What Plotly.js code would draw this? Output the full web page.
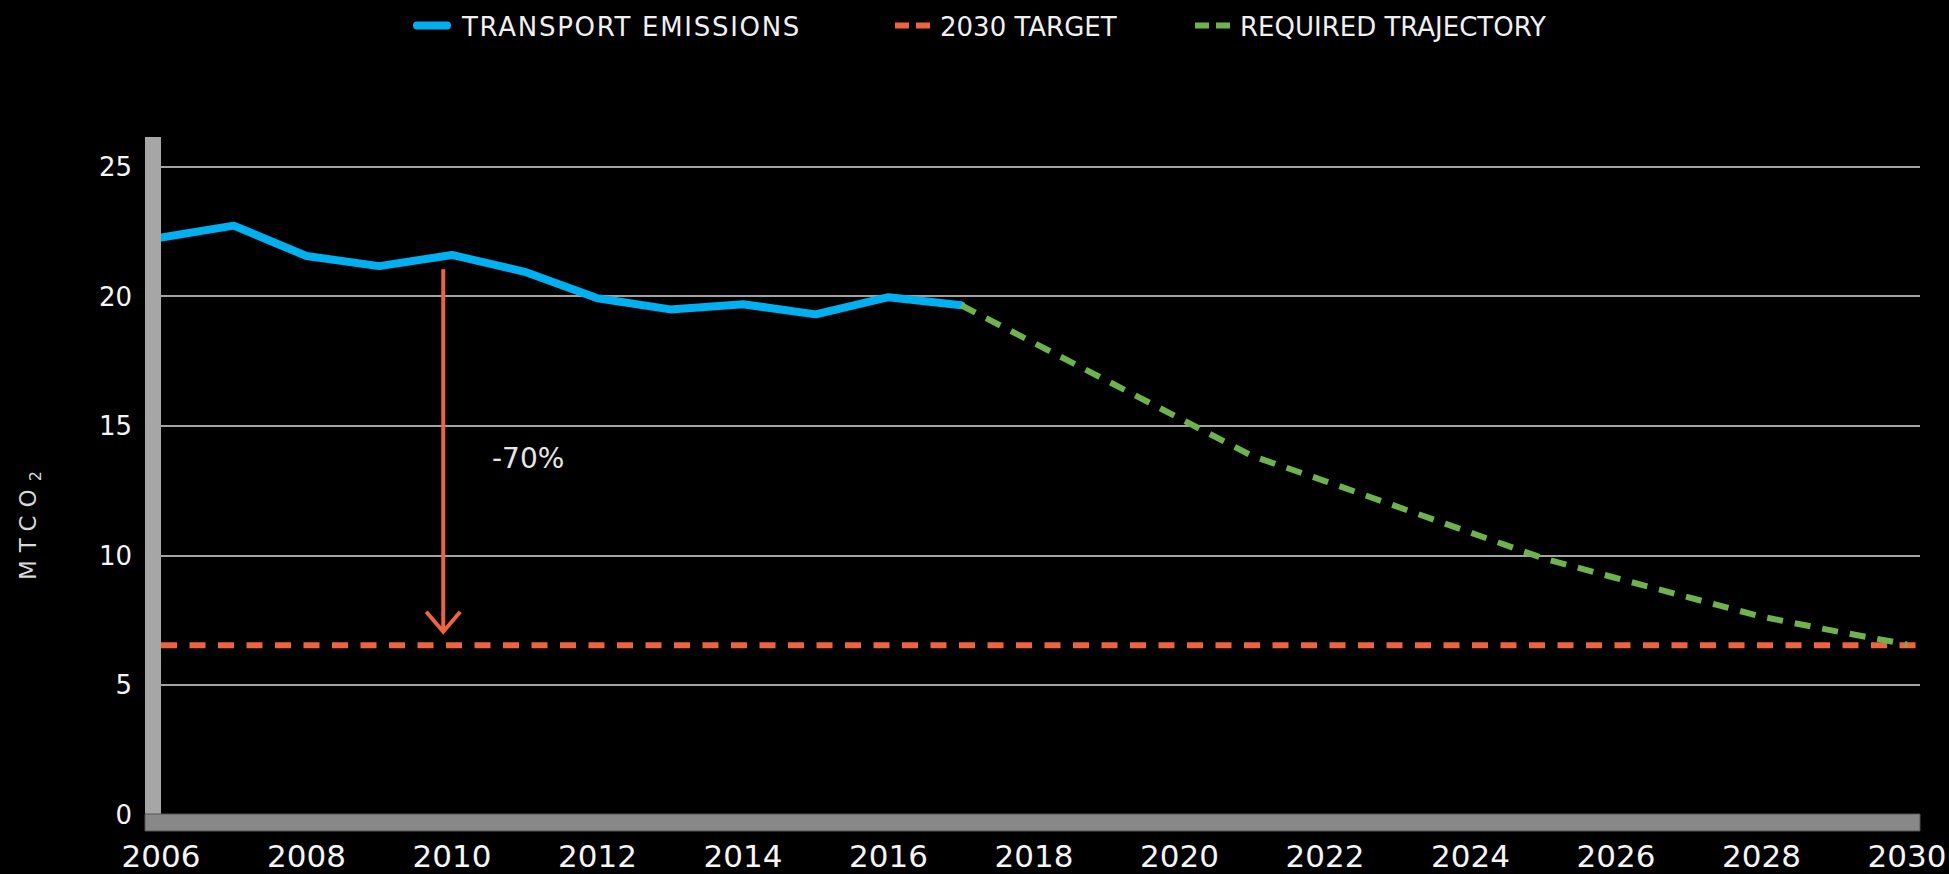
<!DOCTYPE html>
<html>
<head>
<meta charset="utf-8">
<script src="https://cdn.plot.ly/plotly-3.0.1.min.js"></script>
<style>
html,body{margin:0;padding:0;background:#000;}
#chart{width:1949px;height:874px;}
.legendtext{letter-spacing:1.7px;}
.annotation[data-index="0"] .annotation-text{letter-spacing:8px;}
.scatterlayer .trace:nth-child(1) .js-line{stroke-linecap:round;stroke-linejoin:round;}
.legend .legendlines path{stroke-width:8px !important;stroke-linecap:round;stroke-dasharray:30px,100px !important;}
.legend2 .legendlines path,.legend3 .legendlines path{stroke-width:6px !important;stroke-dasharray:14px,7px,14px,100px !important;}
</style>
</head>
<body>
<div id="chart"></div>
<script>
// ---- data ----
const years = [2006, 2007, 2008, 2009, 2010, 2011, 2012, 2013, 2014, 2015, 2016, 2017];
const transportEmissions = [22.27, 22.73, 21.56, 21.17, 21.60, 20.95, 19.93, 19.50, 19.70, 19.31, 19.97, 19.66];
const trajectoryYears = [2017, 2018, 2019, 2020, 2021, 2022, 2023, 2024, 2025, 2026, 2027, 2028, 2029, 2030];
const requiredTrajectory = [19.66, 18.20, 16.75, 15.30, 13.85, 12.88, 11.88, 10.85, 9.90, 9.14, 8.40, 7.65, 7.10, 6.58];
const target2030 = 6.55;
const xTickYears = [2006, 2008, 2010, 2012, 2014, 2016, 2018, 2020, 2022, 2024, 2026, 2028, 2030];
const xTickLabels = ['2006', '2008', '2010', '2012', '2014', '2016', '2018', '2020', '2022', '2024', '2026', '2028', '2030'];
const yTickValues = [0, 5, 10, 15, 20, 25];
const yTickLabels = ['0', '5', '10', '15', '20', '25'];
const seriesNames = ['TRANSPORT EMISSIONS', '2030 TARGET', 'REQUIRED TRAJECTORY'];
const yAxisLabel = 'MTCO<sub>2</sub>';
const reductionLabel = '-70%';
const arrowYear = 2009.88, arrowTop = 21.05, arrowTip = 7.07;
const labelYear = 2011.04, labelValue = 13.75;

// ---- geometry ----
const W = 1949, H = 874;
const M = {l: 161, r: 29, t: 137, b: 59, autoexpand: false};
const plotW = W - M.l - M.r, plotH = H - M.t - M.b;
const xRange = [2006, 2030.18], yRange = [0, 26.15];
const pxX = plotW / (xRange[1] - xRange[0]);
const pxY = plotH / (yRange[1] - yRange[0]);
const paperX = px => (px - M.l) / plotW;
const paperY = py => (H - M.b - py) / plotH;

const BLUE = '#00b0f0', ORANGE = '#ec6440', GREEN = '#6fb34f';
const FONT = 'DejaVu Sans, Arial, sans-serif';

const traces = [
  {
    x: years, y: transportEmissions, name: seriesNames[0], type: 'scatter', mode: 'lines',
    line: {color: BLUE, width: 8}, legend: 'legend', hoverinfo: 'x+y'
  },
  {
    x: [xRange[0], xRange[1]], y: [target2030, target2030], name: seriesNames[1], type: 'scatter', mode: 'lines',
    line: {color: ORANGE, width: 6, dash: '16px,12.5px'}, legend: 'legend2', hoverinfo: 'y'
  },
  {
    x: trajectoryYears, y: requiredTrajectory, name: seriesNames[2], type: 'scatter', mode: 'lines',
    line: {color: GREEN, width: 6, dash: '16px,12px'}, legend: 'legend3', hoverinfo: 'x+y'
  }
];

const armDX = 17 / pxX, armDY = 20 / pxY;
const arrowPath = `M${arrowYear},${arrowTop} L${arrowYear},${arrowTip} ` +
  `M${arrowYear - armDX},${arrowTip + armDY} L${arrowYear},${arrowTip} L${arrowYear + armDX},${arrowTip + armDY}`;

const legendCommon = {
  orientation: 'h', xref: 'container', yref: 'container', xanchor: 'left', yanchor: 'middle',
  y: 1 - 25.5 / H,
  bgcolor: 'rgba(0,0,0,0)', borderwidth: 0,
  font: {family: FONT, size: 26, color: '#f0f0f0'}, itemwidth: 40
};

const layout = {
  width: W, height: H,
  margin: M,
  paper_bgcolor: '#000', plot_bgcolor: '#000',
  showlegend: true,
  legend: Object.assign({}, legendCommon, {x: 412 / W}),
  legend2: Object.assign({}, legendCommon, {x: 890 / W}),
  legend3: Object.assign({}, legendCommon, {x: 1190 / W}),
  xaxis: {
    range: xRange, tickmode: 'array', tickvals: xTickYears, ticktext: xTickLabels,
    showgrid: false, zeroline: false, showline: false, ticks: '',
    tickfont: {family: FONT, size: 31, color: '#f5f5f5'}, ticklabelstandoff: 20
  },
  yaxis: {
    range: yRange, tickmode: 'array', tickvals: yTickValues, ticktext: yTickLabels,
    showgrid: true, gridcolor: '#a3a3a3', gridwidth: 2, zeroline: false, showline: false, ticks: '',
    tickfont: {family: FONT, size: 26, color: '#f5f5f5'}, ticklabelstandoff: 28
  },
  shapes: [
    {type: 'rect', xref: 'paper', yref: 'paper', x0: paperX(145), x1: paperX(161), y0: paperY(831), y1: paperY(137),
     fillcolor: '#a6a6a6', line: {width: 0}, layer: 'below'},
    {type: 'rect', xref: 'paper', yref: 'paper', x0: paperX(145), x1: 1, y0: paperY(831), y1: paperY(814),
     fillcolor: '#888888', line: {color: '#555555', width: 1}, layer: 'above'},
    {type: 'path', xref: 'x', yref: 'y', path: arrowPath, line: {color: ORANGE, width: 4}, layer: 'above'}
  ],
  annotations: [
    {xref: 'paper', yref: 'paper', x: paperX(30), y: paperY(522), text: yAxisLabel, textangle: -90,
     showarrow: false, xanchor: 'center', yanchor: 'middle', font: {family: FONT, size: 23, color: '#d9d9d9'}},
    {xref: 'x', yref: 'y', x: labelYear, y: labelValue, text: reductionLabel, showarrow: false,
     xanchor: 'center', yanchor: 'middle', font: {family: FONT, size: 28, color: '#e6e6e6'}}
  ]
};

Plotly.newPlot('chart', traces, layout, {displayModeBar: false, responsive: false});
</script>
</body>
</html>
